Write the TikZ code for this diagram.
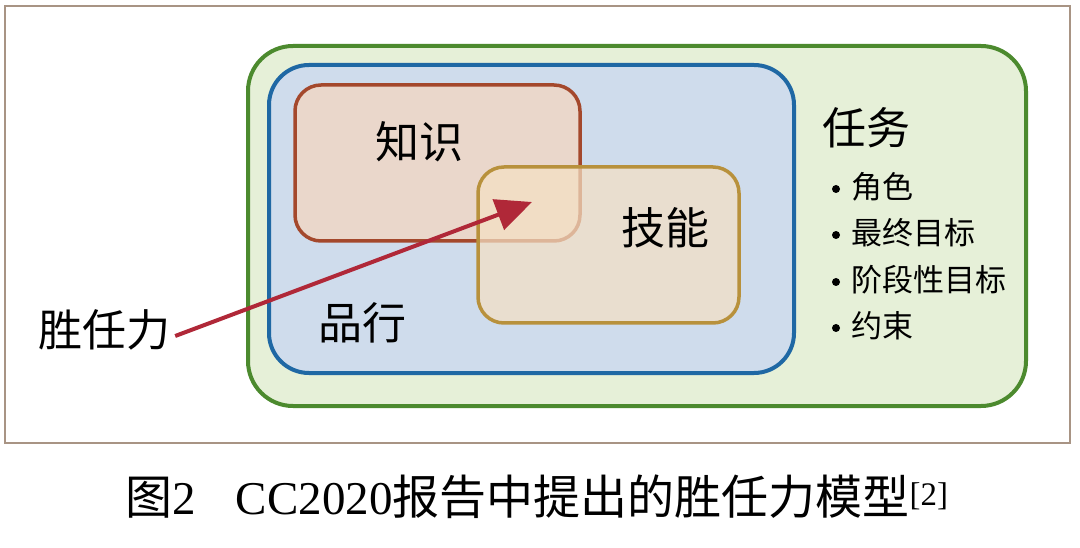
\documentclass[tikz,border=0pt]{standalone}
\usepackage{fontspec}
\setmainfont{Liberation Serif}
\newfontfamily\cjk{Noto Sans CJK SC}
\usetikzlibrary{arrows.meta}
\definecolor{framec}{HTML}{A89484}
\definecolor{greenline}{HTML}{4C8A2E}
\definecolor{greenfill}{HTML}{E6F0D8}
\definecolor{blueline}{HTML}{1F68A4}
\definecolor{bluefill}{HTML}{CFDCEC}
\definecolor{redline}{HTML}{A4482C}
\definecolor{redfill}{HTML}{EAD7CB}
\definecolor{tanline}{HTML}{B8913C}
\definecolor{tanfill}{HTML}{F4E0C4}
\definecolor{arrowc}{HTML}{B02838}
\tikzset{
  box/.style={draw, rectangle, inner sep=0pt},
  lbl/.style={font=\cjk\fontsize{44}{48}\selectfont, inner sep=0pt, text=black},
  item/.style={font=\cjk\fontsize{31}{34}\selectfont, inner sep=0pt, anchor=west, text=black},
  dot/.style={circle, fill=black, inner sep=0pt, minimum size=8pt},
}
\begin{document}
\begin{tikzpicture}[x=1pt,y=-1pt]
\useasboundingbox (0,0) rectangle (1080,548);
\fill[white] (0,0) rectangle (1080,548);
\node[draw=framec, line width=1.5pt, minimum width=1065pt, minimum height=437pt, inner sep=0pt] (frame) at (537.5,224.5) {};
\node[box, draw=greenline, fill=greenfill, line width=4pt, rounded corners=45pt, minimum width=778pt, minimum height=360pt] (task) at (637,226) {};
\node[box, draw=blueline, fill=bluefill, line width=4pt, rounded corners=40pt, minimum width=525pt, minimum height=308pt] (virtue) at (531.5,219) {};
\node[box, draw=redline, fill=redfill, line width=3.5pt, rounded corners=26pt, minimum width=285pt, minimum height=156pt] (know) at (437.5,163) {};
\node[box, draw=tanline, fill=tanfill, fill opacity=0.72, line width=3.5pt, rounded corners=26pt, minimum width=261pt, minimum height=156pt] (skill) at (608.5,245) {};
\node[lbl] (tknow) at (419,142) {知识};
\node[lbl] (tskill) at (665,228) {技能};
\node[lbl] (tvirtue) at (362,323) {品行};
\node[lbl] (ttask) at (866,128) {任务};
\node[dot] (d1) at (836,189) {};
\node[dot] (d2) at (836,235) {};
\node[dot] (d3) at (836,282) {};
\node[dot] (d4) at (836,328) {};
\node[item] (i1) at (851,187) {角色};
\node[item] (i2) at (851,233) {最终目标};
\node[item] (i3) at (851,280) {阶段性目标};
\node[item] (i4) at (851,326) {约束};
\node[lbl] (comp) at (104,330) {胜任力};
\coordinate (tip) at (532,202);
\draw[arrowc, line width=4pt, -{Triangle[length=36pt,width=32pt]}] ([xshift=5pt,yshift=-6pt]comp.east) -- (tip);
\node[font=\fontsize{47}{50}\selectfont, inner sep=0pt] (cap) at (537,497) {{\cjk 图}2\hspace{40pt}CC2020{\cjk 报告中提出的胜任力模型}\textsuperscript{[2]}};
\end{tikzpicture}
\end{document}
